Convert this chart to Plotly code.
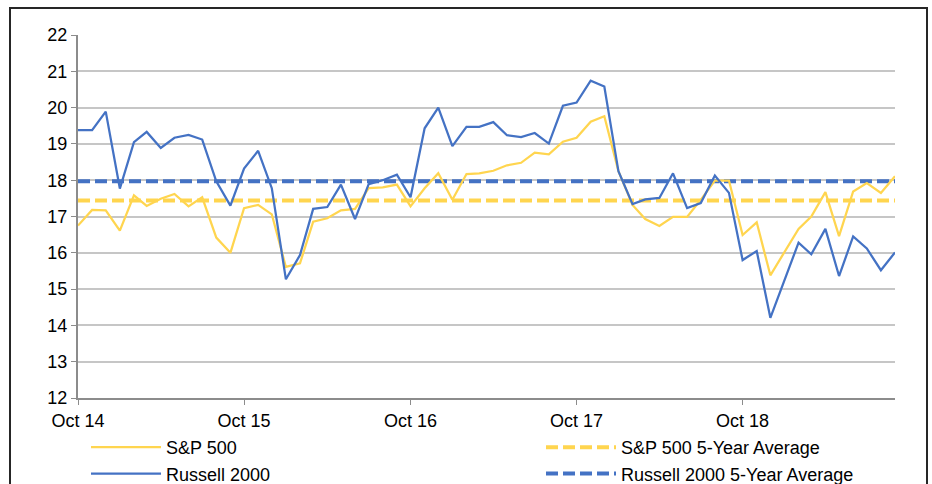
import plotly.graph_objects as go
import pandas as pd

months = pd.date_range("2014-10-01", periods=60, freq="MS")

sp500 = [16.75, 17.18, 17.17, 16.61, 17.58, 17.29, 17.49, 17.62, 17.28, 17.53,
         16.42, 16.00, 17.23, 17.32, 17.06, 15.61, 15.71, 16.86, 16.95, 17.17,
         17.21, 17.78, 17.80, 17.88, 17.28, 17.78, 18.19, 17.46, 18.17, 18.19,
         18.26, 18.41, 18.48, 18.76, 18.71, 19.06, 19.17, 19.61, 19.76, 18.25,
         17.32, 16.93, 16.74, 16.99, 16.99, 17.46, 17.99, 17.99, 16.49, 16.84,
         15.38, 16.03, 16.66, 17.00, 17.67, 16.46, 17.69, 17.92, 17.65, 18.11]

russell = [19.38, 19.38, 19.89, 17.77, 19.05, 19.33, 18.89, 19.17, 19.25, 19.12,
           17.97, 17.30, 18.32, 18.81, 17.78, 15.27, 15.94, 17.21, 17.26, 17.88,
           16.93, 17.89, 18.00, 18.15, 17.53, 19.43, 20.00, 18.94, 19.47, 19.47,
           19.60, 19.24, 19.19, 19.30, 19.01, 20.05, 20.14, 20.74, 20.58, 18.25,
           17.34, 17.47, 17.51, 18.19, 17.23, 17.37, 18.13, 17.65, 15.80, 16.05,
           14.21, 15.27, 16.28, 15.96, 16.66, 15.36, 16.45, 16.12, 15.52, 16.01]

sp500_avg = 17.44
russell_avg = 17.97

tick_vals = ["2014-10-01", "2015-10-01", "2016-10-01", "2017-10-01", "2018-10-01"]
tick_text = ["Oct 14", "Oct 15", "Oct 16", "Oct 17", "Oct 18"]

YELLOW = "#FFD54F"
BLUE = "#4472C4"

fig = go.Figure()
fig.add_trace(go.Scatter(x=months, y=[sp500_avg] * len(months), mode="lines",
                         name="S&P 500 5-Year Average", legend="legend2",
                         line=dict(color=YELLOW, width=4, dash="12px,5px")))
fig.add_trace(go.Scatter(x=months, y=[russell_avg] * len(months), mode="lines",
                         name="Russell 2000 5-Year Average", legend="legend2",
                         line=dict(color=BLUE, width=4, dash="12px,5px")))
fig.add_trace(go.Scatter(x=months, y=sp500, mode="lines", name="S&P 500",
                         legend="legend", legendrank=1,
                         line=dict(color=YELLOW, width=2.25)))
fig.add_trace(go.Scatter(x=months, y=russell, mode="lines", name="Russell 2000",
                         legend="legend", legendrank=2,
                         line=dict(color=BLUE, width=2.25)))

font = dict(family="Liberation Sans, Arial, sans-serif", size=18, color="#000000")

leg_common = dict(orientation="v", xref="container", yref="container",
                  xanchor="left", yanchor="top", font=font,
                  bgcolor="rgba(0,0,0,0)", itemwidth=70, tracegroupgap=0,
                  traceorder="normal")

fig.update_layout(
    width=932, height=484,
    margin=dict(l=78, r=37, t=35, b=86, autoexpand=False),
    paper_bgcolor="white", plot_bgcolor="white",
    font=font,
    showlegend=True,
    legend=dict(x=86 / 932, y=55 / 484, **leg_common),
    legend2=dict(x=541 / 932, y=55 / 484, **leg_common),
    xaxis=dict(type="date", range=["2014-10-01", "2019-09-01"],
               tickvals=tick_vals, ticktext=tick_text,
               showgrid=False, showline=True, linecolor="#8C8C8C", linewidth=2,
               ticks="outside", ticklen=5, tickcolor="#8C8C8C", tickwidth=1,
               zeroline=False, tickfont=font),
    yaxis=dict(range=[12, 22], dtick=1, showgrid=True, gridcolor="#C6C6C6",
               gridwidth=1.5, showline=True, linecolor="#8C8C8C", linewidth=2,
               ticks="outside", ticklen=5, tickcolor="#8C8C8C", tickwidth=1,
               zeroline=False, tickfont=font),
)

# outer frame of the chart
pw = 932 - 78 - 37
ph = 484 - 35 - 86
fig.add_shape(type="rect", xref="paper", yref="paper",
              x0=(10 - 78) / pw, x1=(927 - 78) / pw,
              y0=(398 - 520) / ph, y1=(398 - 8) / ph,
              line=dict(color="#262626", width=2), fillcolor="rgba(0,0,0,0)",
              layer="below")

fig.write_html("out.html",
               config={"displayModeBar": False},
               post_script="document.body.style.margin='0';"
                           "document.body.style.overflow='hidden';")
